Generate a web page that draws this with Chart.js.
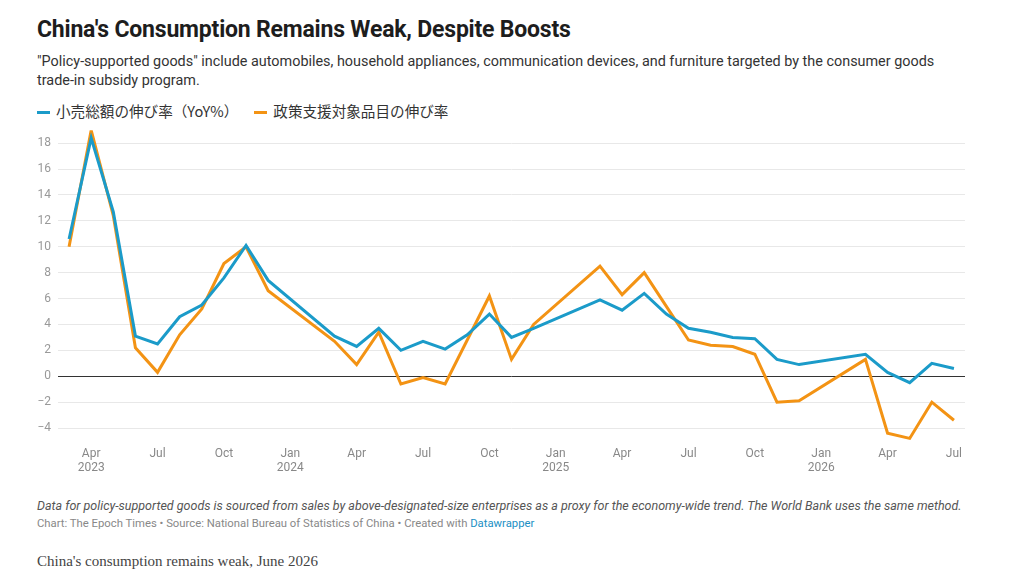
<!DOCTYPE html>
<html>
<head>
<meta charset="utf-8">
<script src="https://cdn.jsdelivr.net/npm/chart.js@4/dist/chart.umd.min.js"></script>
<style>
  body { margin: 0; background: #fff; font-family: Roboto, "Noto Sans CJK JP", sans-serif; }
  #wrap { position: relative; width: 1024px; height: 586px; overflow: hidden; }
  .txt { position: absolute; left: 37px; white-space: nowrap; }
  #title { top: 16px; font-size: 23px; font-weight: 700; color: #1d1d1d; letter-spacing: -0.2px; }
  #sub { top: 52px; font-size: 14.4px; line-height: 19px; color: #333; }
  #legend { top: 100px; font-size: 14.6px; color: #333; font-family: "Noto Sans CJK JP", Roboto, sans-serif; }
  #legend span.key { display: inline-block; width: 13px; height: 3px; vertical-align: middle; margin-right: 6px; margin-top: -2px; }
  #legend span.item { margin-right: 16px; }
  #note { top: 498px; font-size: 12.5px; font-style: italic; color: #555; }
  #credit { top: 517px; font-size: 11.3px; color: #888; }
  #credit a { color: #1a8fc4; text-decoration: none; }
  #caption { top: 553px; font-size: 15px; color: #444; font-family: "Liberation Serif", "DejaVu Serif", serif; }
  #chartBox { position: absolute; left: 0; top: 116px; width: 1024px; height: 367px; }
</style>
</head>
<body>
<div id="wrap">
  <div class="txt" id="title">China's Consumption Remains Weak, Despite Boosts</div>
  <div class="txt" id="sub">"Policy-supported goods" include automobiles, household appliances, communication devices, and furniture targeted by the consumer goods<br>trade-in subsidy program.</div>
  <div class="txt" id="legend"></div>
  <div id="chartBox"><canvas id="chart"></canvas></div>
  <div class="txt" id="note">Data for policy-supported goods is sourced from sales by above-designated-size enterprises as a proxy for the economy-wide trend. The World Bank uses the same method.</div>
  <div class="txt" id="credit">Chart: The Epoch Times • Source: National Bureau of Statistics of China • Created with <a>Datawrapper</a></div>
  <div class="txt" id="caption">China's consumption remains weak, June 2026</div>
</div>
<script>
// Months from Mar 2023 to Jul 2026 (Jan/Feb have no separate figure)
const months = [
  '2023-03','2023-04','2023-05','2023-06','2023-07','2023-08','2023-09','2023-10','2023-11','2023-12',
  '2024-01','2024-02','2024-03','2024-04','2024-05','2024-06','2024-07','2024-08','2024-09','2024-10','2024-11','2024-12',
  '2025-01','2025-02','2025-03','2025-04','2025-05','2025-06','2025-07','2025-08','2025-09','2025-10','2025-11','2025-12',
  '2026-01','2026-02','2026-03','2026-04','2026-05','2026-06','2026-07'
];

// 小売総額の伸び率 (YoY%)
const retailSales = [
  10.6, 18.4, 12.7, 3.1, 2.5, 4.6, 5.5, 7.6, 10.1, 7.4,
  null, null, 3.1, 2.3, 3.7, 2.0, 2.7, 2.1, 3.2, 4.8, 3.0, 3.7,
  null, null, 5.9, 5.1, 6.4, 4.8, 3.7, 3.4, 3.0, 2.9, 1.3, 0.9,
  null, null, 1.7, 0.3, -0.5, 1.0, 0.6
];

// 政策支援対象品目の伸び率
const policyGoods = [
  10.0, 19.0, 12.4, 2.2, 0.3, 3.2, 5.2, 8.7, 10.0, 6.6,
  null, null, 2.7, 0.9, 3.4, -0.6, -0.1, -0.6, 2.8, 6.2, 1.3, 4.0,
  null, null, 8.5, 6.3, 8.0, 5.4, 2.8, 2.4, 2.3, 1.7, -2.0, -1.9,
  null, null, 1.3, -4.4, -4.8, -2.0, -3.4
];

const yTicks = [-4, -2, 0, 2, 4, 6, 8, 10, 12, 14, 16, 18];
const monthNames = { '01': 'Jan', '04': 'Apr', '07': 'Jul', '10': 'Oct' };

const seriesNames = ['小売総額の伸び率（YoY%）', '政策支援対象品目の伸び率'];
const seriesColors = ['#1b9bc9', '#f39314'];

// HTML legend
document.getElementById('legend').innerHTML = seriesNames.map((n, i) =>
  `<span class="item"><span class="key" style="background:${seriesColors[i]}"></span>${n}</span>`
).join('');

new Chart(document.getElementById('chart'), {
  type: 'line',
  data: {
    labels: months,
    datasets: [
      { label: seriesNames[0], data: retailSales, borderColor: seriesColors[0], borderWidth: 3, pointRadius: 0, spanGaps: true, tension: 0 },
      { label: seriesNames[1], data: policyGoods, borderColor: seriesColors[1], borderWidth: 3, pointRadius: 0, spanGaps: true, tension: 0 }
    ]
  },
  options: {
    responsive: true,
    maintainAspectRatio: false,
    animation: false,
    layout: { padding: { top: 5, right: 59, left: 0, bottom: 0 } },
    plugins: { legend: { display: false }, tooltip: { enabled: false } },
    scales: {
      x: {
        offset: true,
        grid: { display: false, drawTicks: false },
        border: { display: false },
        afterFit: (s) => { s.height = 42; },
        ticks: {
          autoSkip: false,
          maxRotation: 0,
          padding: 6,
          color: '#888',
          font: { family: 'Roboto', size: 12, lineHeight: 1.15 },
          callback: function (val, i) {
            const m = months[i];
            const mm = m.slice(5);
            if (!monthNames[mm]) return '';
            if (mm === '01' || i === 1) return [monthNames[mm], m.slice(0, 4)];
            return monthNames[mm];
          }
        }
      },
      y: {
        min: -5,
        max: 19,
        afterBuildTicks: (s) => { s.ticks = yTicks.map(v => ({ value: v })); },
        afterFit: (s) => { s.width = 58; },
        border: { display: false },
        grid: {
          drawTicks: false,
          color: (c) => c.tick && c.tick.value === 0 ? '#333' : '#e8e8e8',
          lineWidth: 1
        },
        ticks: {
          padding: 7,
          color: '#999',
          font: { family: 'Roboto', size: 12 },
          callback: (v) => v < 0 ? '−' + Math.abs(v) : v
        }
      }
    }
  }
});
</script>
</body>
</html>
